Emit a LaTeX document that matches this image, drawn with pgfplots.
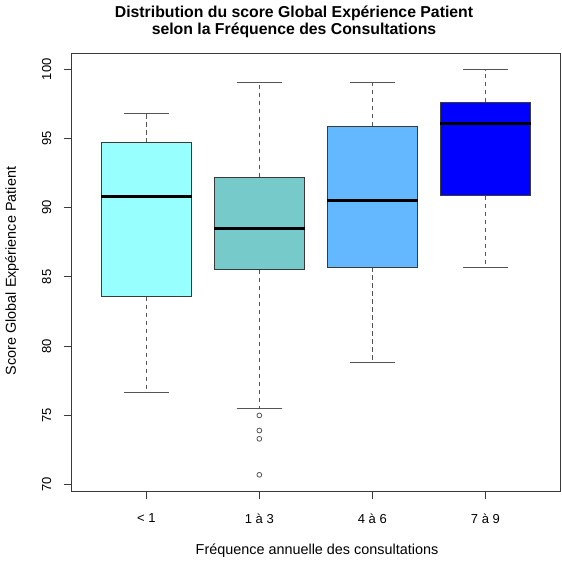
\documentclass[border=0pt]{standalone}
\usepackage{fontspec}
\setmainfont{Liberation Sans}
\usepackage{pgfplots}
\pgfplotsset{compat=1.18}
\definecolor{c1}{HTML}{98FFFF}
\definecolor{c2}{HTML}{76CACA}
\definecolor{c3}{HTML}{63B8FF}
\definecolor{c4}{HTML}{0000FF}
\definecolor{edge}{HTML}{3A3A3A}
\definecolor{whisk}{HTML}{555555}
\begin{document}
\begin{tikzpicture}
\path[use as bounding box] (-71.7pt,-71pt) rectangle (490.3pt,491pt);
\begin{axis}[
 at={(0pt,0pt)}, anchor=south west,
 scale only axis, width=488.3pt, height=438pt,
 xmin=0.34, xmax=4.66, ymin=69.53, ymax=101.17,
 xtick={1,2,3,4}, xticklabels={{< 1},{1 à 3},{4 à 6},{7 à 9}},
 ytick={70,75,...,100},
 tick align=outside, major tick length=8pt,
 tick style={edge, line width=0.7pt},
 axis line style={edge, line width=0.8pt},
 xtick pos=bottom, ytick pos=left,
 /pgf/number format/assume math mode=true,
 ticklabel style={font=\fontsize{13}{15}\selectfont},
 yticklabel style={rotate=90, anchor=south, yshift=9pt},
 xticklabel style={yshift=-11pt},
 wh/.style={whisk, line width=0.8pt, dash pattern=on 4.5pt off 3.5pt},
 cap/.style={whisk, line width=0.8pt},
 bx/.style={draw=edge, line width=0.8pt},
 med/.style={black, line width=2.8pt},
]
% group 1: < 1
\addplot[wh] coordinates {(1,94.68) (1,96.8)};
\addplot[wh] coordinates {(1,83.56) (1,76.63)};
\addplot[cap] coordinates {(0.8,96.8) (1.2,96.8)};
\addplot[cap] coordinates {(0.8,76.63) (1.2,76.63)};
\addplot[bx, fill=c1] coordinates {(0.6,83.56) (1.4,83.56) (1.4,94.68) (0.6,94.68)} -- cycle;
\addplot[med] coordinates {(0.6,90.78) (1.4,90.78)};
% group 2: 1 a 3
\addplot[wh] coordinates {(2,92.2) (2,99.08)};
\addplot[wh] coordinates {(2,85.51) (2,75.5)};
\addplot[cap] coordinates {(1.8,99.08) (2.2,99.08)};
\addplot[cap] coordinates {(1.8,75.5) (2.2,75.5)};
\addplot[bx, fill=c2] coordinates {(1.6,85.51) (2.4,85.51) (2.4,92.2) (1.6,92.2)} -- cycle;
\addplot[med] coordinates {(1.6,88.5) (2.4,88.5)};
\addplot[only marks, mark=o, mark size=2.4pt, mark options={whisk, line width=0.8pt}] coordinates {(2,74.99) (2,73.9) (2,73.3) (2,70.7)};
% group 3: 4 a 6
\addplot[wh] coordinates {(3,95.88) (3,99.08)};
\addplot[wh] coordinates {(3,85.7) (3,78.8)};
\addplot[cap] coordinates {(2.8,99.08) (3.2,99.08)};
\addplot[cap] coordinates {(2.8,78.8) (3.2,78.8)};
\addplot[bx, fill=c3] coordinates {(2.6,85.7) (3.4,85.7) (3.4,95.88) (2.6,95.88)} -- cycle;
\addplot[med] coordinates {(2.6,90.49) (3.4,90.49)};
% group 4: 7 a 9
\addplot[wh] coordinates {(4,97.6) (4,99.97)};
\addplot[wh] coordinates {(4,90.85) (4,85.7)};
\addplot[cap] coordinates {(3.8,99.97) (4.2,99.97)};
\addplot[cap] coordinates {(3.8,85.7) (4.2,85.7)};
\addplot[bx, fill=c4] coordinates {(3.6,90.85) (4.4,90.85) (4.4,97.6) (3.6,97.6)} -- cycle;
\addplot[med] coordinates {(3.6,96.1) (4.4,96.1)};
\end{axis}
\node[font=\bfseries\fontsize{15.8}{18}\selectfont] at (222.3pt,477.5pt) {Distribution du score Global Expérience Patient};
\node[font=\bfseries\fontsize{15.8}{18}\selectfont] at (222.3pt,460.5pt) {selon la Fréquence des Consultations};
\node[rotate=90, font=\fontsize{14.4}{16}\selectfont] at (-59.7pt,220pt) {Score Global Expérience Patient};
\node[font=\fontsize{14.4}{16}\selectfont] at (245.3pt,-60pt) {Fréquence annuelle des consultations};
\end{tikzpicture}
\end{document}
